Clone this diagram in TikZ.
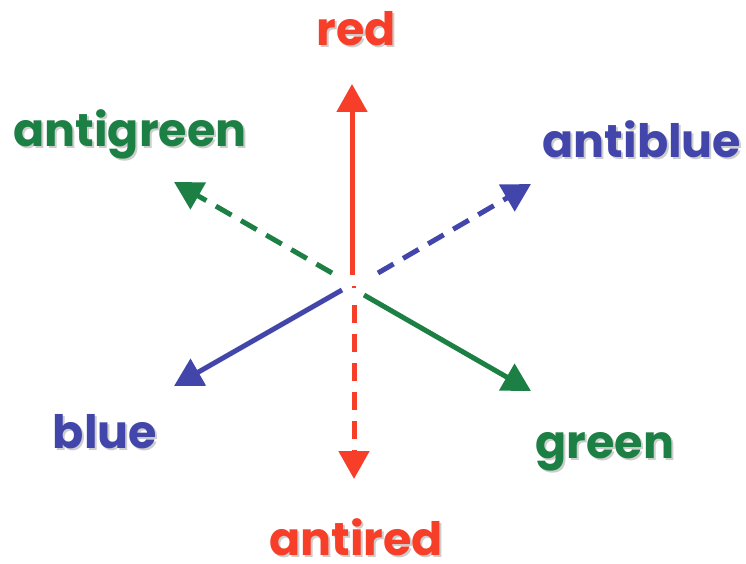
\documentclass[tikz,border=0pt]{standalone}
\usepackage{fontspec}
\setmainfont{Poppins}
\definecolor{cred}{RGB}{246,62,40}
\definecolor{cgreen}{RGB}{28,128,68}
\definecolor{cblue}{RGB}{66,70,170}
\definecolor{cshadow}{RGB}{205,205,205}
\usetikzlibrary{positioning,arrows.meta}

\begin{document}
\begin{tikzpicture}[
    x=1pt, y=-1pt,
    colour/.style={font=\fontsize{46}{48}\selectfont\bfseries, inner sep=0pt, anchor=base},
    textshadow/.style={colour, text=cshadow},
    arrow/.style={-{Triangle[length=28pt,width=30pt]}, line width=5pt},
    anti/.style={arrow, dash pattern=on 18pt off 11pt}
]
\useasboundingbox (0,0) rectangle (746,564);

% Centre
\coordinate (centre) at (354,287);

% Labels (with a soft shadow)
\node[textshadow] (redsh) at (358,48) {red};
\node[colour, text=cred] (red) at (356,46) {red};
\node[textshadow, text depth=0pt] (antiredsh) at (358,557) {antired};
\node[colour, text=cred, text depth=0pt] (antired) at (356,555) {antired};
\node[textshadow] (antigreensh) at (132,149) {antigreen};
\node[colour, text=cgreen] (antigreen) at (130,147) {antigreen};
\node[textshadow] (greensh) at (607,460) {green};
\node[colour, text=cgreen] (green) at (605,458) {green};
\node[textshadow] (antibluesh) at (644,160) {antiblue};
\node[colour, text=cblue] (antiblue) at (642,158) {antiblue};
\node[textshadow] (bluesh) at (107,450) {blue};
\node[colour, text=cblue] (blue) at (105,448) {blue};

% Arrow ends
\coordinate (redtip) at (352,84);
\coordinate (antiredtip) at (354,479);
\coordinate (antigreentip) at (174,182);
\coordinate (greentip) at (531,391);
\coordinate (antibluetip) at (531,184);
\coordinate (bluetip) at (174,386);

% Arrows
\draw[arrow, cred] ([shift={(-2,-12)}]centre) -- (redtip);
\draw[anti, cred] ([shift={(0,18)}]centre) -- (antiredtip);
\draw[anti, cgreen] ([shift={(-22,-14)}]centre) -- (antigreentip);
\draw[arrow, cgreen] ([shift={(10,8)}]centre) -- (greentip);
\draw[anti, cblue] ([shift={(24,-14)}]centre) -- (antibluetip);
\draw[arrow, cblue] ([shift={(-12,3)}]centre) -- (bluetip);
\fill[cred] ([shift={(-2,-1)}]centre) rectangle ([shift={(2,1)}]centre);

\end{tikzpicture}
\end{document}
